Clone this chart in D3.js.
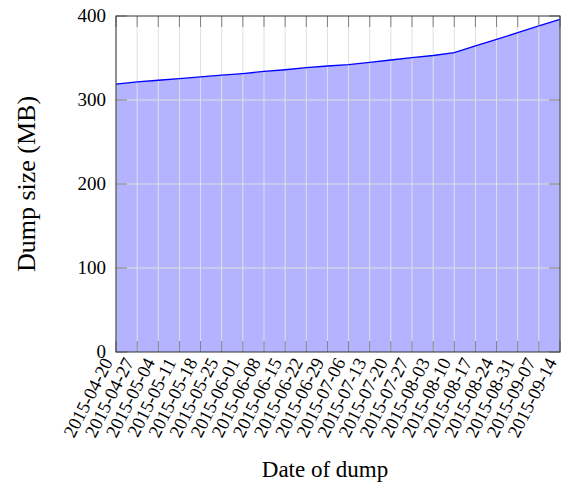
<!DOCTYPE html>
<html>
<head>
<meta charset="utf-8">
<script src="https://cdn.jsdelivr.net/npm/d3@7"></script>
<style>
  body { margin: 0; background: #fff; }
  text { font-family: "Liberation Serif", "Times New Roman", serif; fill: #000; }
</style>
</head>
<body>
<div id="vis-container"></div>
<script>
// weekly dump dates and the dump size in MB
var dates = ["2015-04-20", "2015-04-27", "2015-05-04", "2015-05-11", "2015-05-18", "2015-05-25",
    "2015-06-01", "2015-06-08", "2015-06-15", "2015-06-22", "2015-06-29", "2015-07-06",
    "2015-07-13", "2015-07-20", "2015-07-27", "2015-08-03", "2015-08-10", "2015-08-17",
    "2015-08-24", "2015-08-31", "2015-09-07", "2015-09-14"];
var sizeMB = [319, 321.5, 323.5, 325.5, 327.5, 329.5, 331.5, 334, 336, 338.5, 340.5, 342,
    344.8, 347.6, 350.4, 353, 356.5, 364.5, 372.2, 380.2, 388.3, 396];
var yTicks = [0, 100, 200, 300, 400];

var data = dates.map((d, i) => ({ date: d, size: sizeMB[i] }));

var width = 561;
var height = 486;
var margins = { top: 16, right: 1, bottom: 134, left: 116 };
var visWidth = width - margins.left - margins.right;
var visHeight = height - margins.top - margins.bottom;

var svg = d3.select("#vis-container").append("svg")
    .attr("width", width).attr("height", height);
var viewport = svg.append("g")
    .attr("transform", "translate(" + margins.left + "," + margins.top + ")");

var xScale = d3.scalePoint().domain(dates).range([0, visWidth]);
var yScale = d3.scaleLinear().domain([0, 400]).range([visHeight, 0]);

// filled area under the line
var area = d3.area()
    .x(d => xScale(d.date))
    .y0(yScale(0))
    .y1(d => yScale(d.size));
viewport.append("path")
    .attr("d", area(data))
    .attr("fill", "#b3b3ff");

// grid (drawn on top of the fill, like axis on top)
var grid = viewport.append("g");
grid.selectAll(".vgrid").data(dates).enter().append("line")
    .attr("x1", d => xScale(d)).attr("x2", d => xScale(d))
    .attr("y1", 0).attr("y2", visHeight)
    .attr("stroke", "#e0e0e0").attr("stroke-width", 1);
grid.selectAll(".hgrid").data(yTicks.slice(1, -1)).enter().append("line")
    .attr("x1", 0).attr("x2", visWidth)
    .attr("y1", d => yScale(d)).attr("y2", d => yScale(d))
    .attr("stroke", "#e0e0e0").attr("stroke-width", 1);

var line = d3.line()
    .x(d => xScale(d.date))
    .y(d => yScale(d.size));
viewport.append("path")
    .attr("d", line(data))
    .attr("fill", "none")
    .attr("stroke", "#0000ff")
    .attr("stroke-width", 1.3);

// inner ticks on all four sides
var tickLen = 11;
var ticks = viewport.append("g").attr("stroke", "#808080").attr("stroke-width", 1);
dates.forEach(d => {
    ticks.append("line").attr("x1", xScale(d)).attr("x2", xScale(d))
        .attr("y1", visHeight).attr("y2", visHeight - tickLen);
    ticks.append("line").attr("x1", xScale(d)).attr("x2", xScale(d))
        .attr("y1", 0).attr("y2", tickLen);
});
yTicks.forEach(v => {
    ticks.append("line").attr("x1", 0).attr("x2", tickLen)
        .attr("y1", yScale(v)).attr("y2", yScale(v));
    ticks.append("line").attr("x1", visWidth).attr("x2", visWidth - tickLen)
        .attr("y1", yScale(v)).attr("y2", yScale(v));
});

viewport.append("rect")
    .attr("x", 0).attr("y", 0)
    .attr("width", visWidth).attr("height", visHeight)
    .attr("fill", "none").attr("stroke", "#333").attr("stroke-width", 1);

// axes (labels only)
var yAxis = viewport.append("g")
    .call(d3.axisLeft(yScale).tickValues(yTicks).tickSize(0).tickPadding(10));
yAxis.select(".domain").remove();
yAxis.selectAll("text")
    .style("font-family", "Liberation Serif")
    .style("font-size", "19px")
    .attr("dy", "0.3em");

var xAxis = viewport.append("g")
    .attr("transform", "translate(0," + visHeight + ")")
    .call(d3.axisBottom(xScale).tickSize(0));
xAxis.select(".domain").remove();
xAxis.selectAll("text")
    .style("font-family", "Liberation Serif")
    .style("font-size", "18.5px")
    .style("text-anchor", "end")
    .attr("x", 0).attr("y", 0).attr("dy", "0.35em")
    .attr("transform", "translate(-9,7) rotate(-63)");

// axis titles
svg.append("text")
    .attr("transform", "translate(35," + (margins.top + visHeight / 2) + ") rotate(-90)")
    .attr("text-anchor", "middle")
    .style("font-size", "26px")
    .text("Dump size (MB)");

svg.append("text")
    .attr("x", 325).attr("y", 477)
    .attr("text-anchor", "middle")
    .style("font-size", "23px")
    .text("Date of dump");
</script>
</body>
</html>
